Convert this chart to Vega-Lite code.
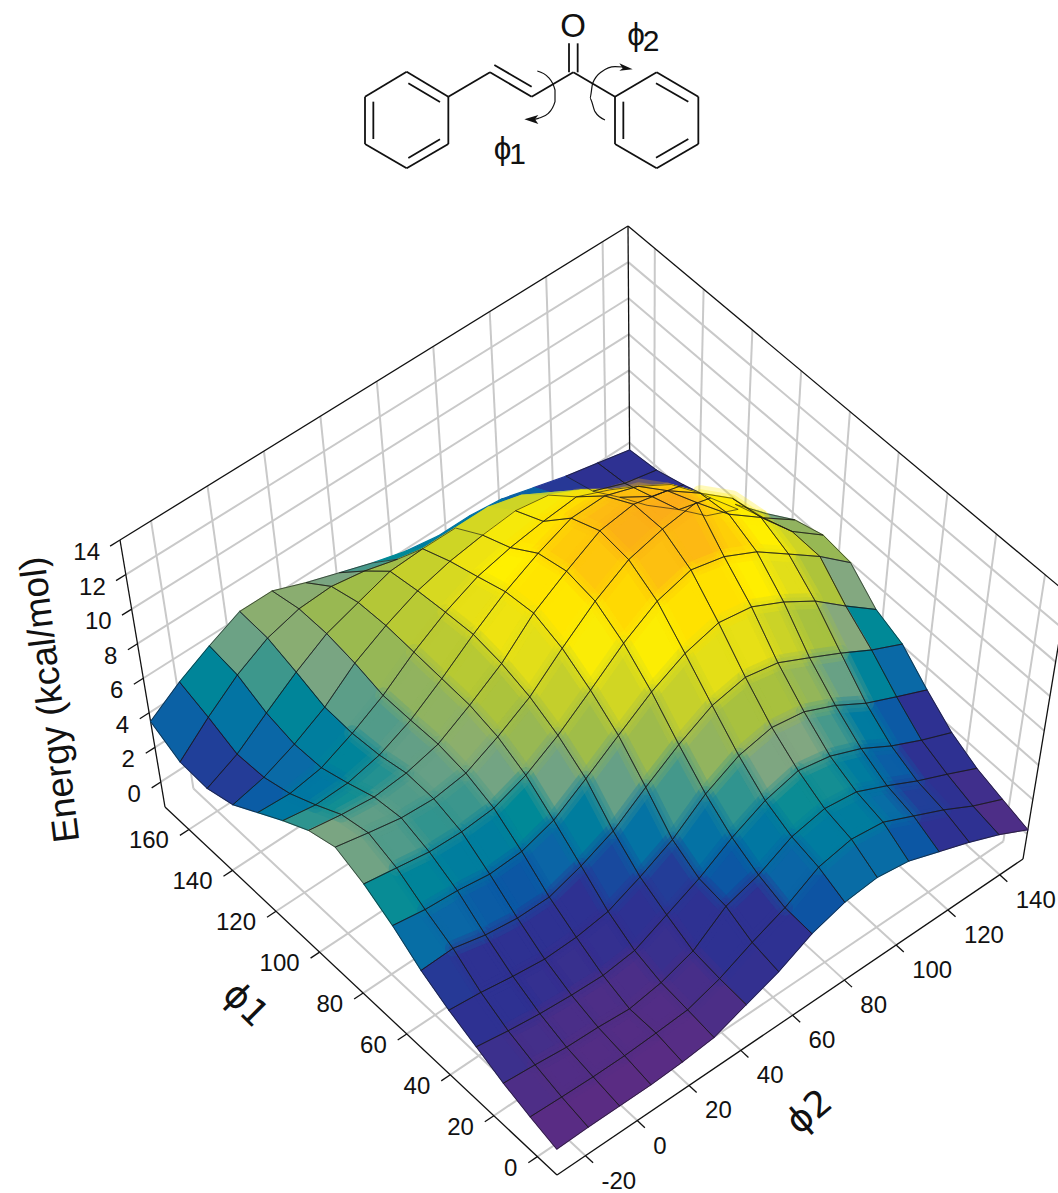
{"$schema":"https://vega.github.io/schema/vega-lite/v6.json","width":1058,"height":1193,"padding":0,"autosize":{"type":"none"},"background":"white","config":{"view":{"stroke":null},"text":{"font":"Liberation Sans"}},
"datasets":{
"surface":[
{"phi1":171,"phi2":-31,"energy":3.5},{"phi1":171,"phi2":-19,"energy":4.6},{"phi1":171,"phi2":-7,"energy":5.5},{"phi1":171,"phi2":5,"energy":6.3},{"phi1":171,"phi2":17,"energy":6.3},{"phi1":171,"phi2":29,"energy":5.6},{"phi1":171,"phi2":41,"energy":5},{"phi1":171,"phi2":53,"energy":4.4},{"phi1":171,"phi2":65,"energy":3.9},{"phi1":171,"phi2":77,"energy":3.6},{"phi1":171,"phi2":89,"energy":3.6},{"phi1":171,"phi2":101,"energy":3.4},{"phi1":171,"phi2":113,"energy":2.9},{"phi1":171,"phi2":125,"energy":2.4},{"phi1":171,"phi2":137,"energy":2},{"phi1":171,"phi2":149,"energy":1.6},
{"phi1":159,"phi2":-31,"energy":2.6},{"phi1":159,"phi2":-19,"energy":4},{"phi1":159,"phi2":-7,"energy":5.26},{"phi1":159,"phi2":5,"energy":6.2},{"phi1":159,"phi2":17,"energy":6.7},{"phi1":159,"phi2":29,"energy":6.8},{"phi1":159,"phi2":41,"energy":6.5},{"phi1":159,"phi2":53,"energy":6},{"phi1":159,"phi2":65,"energy":5.6},{"phi1":159,"phi2":77,"energy":5.2},{"phi1":159,"phi2":89,"energy":5},{"phi1":159,"phi2":101,"energy":4.6},{"phi1":159,"phi2":113,"energy":3.8},{"phi1":159,"phi2":125,"energy":2.9},{"phi1":159,"phi2":137,"energy":2.2},{"phi1":159,"phi2":149,"energy":1.8},
{"phi1":147,"phi2":-31,"energy":2.5},{"phi1":147,"phi2":-19,"energy":3.3},{"phi1":147,"phi2":-7,"energy":4.5},{"phi1":147,"phi2":5,"energy":5.67},{"phi1":147,"phi2":17,"energy":6.7},{"phi1":147,"phi2":29,"energy":7.3},{"phi1":147,"phi2":41,"energy":7.9},{"phi1":147,"phi2":53,"energy":8},{"phi1":147,"phi2":65,"energy":8},{"phi1":147,"phi2":77,"energy":8},{"phi1":147,"phi2":89,"energy":7.5},{"phi1":147,"phi2":101,"energy":6.5},{"phi1":147,"phi2":113,"energy":5.2},{"phi1":147,"phi2":125,"energy":3.9},{"phi1":147,"phi2":137,"energy":2.8},{"phi1":147,"phi2":149,"energy":2.3},
{"phi1":135,"phi2":-31,"energy":3},{"phi1":135,"phi2":-19,"energy":3.4},{"phi1":135,"phi2":-7,"energy":4.13},{"phi1":135,"phi2":5,"energy":5.08},{"phi1":135,"phi2":17,"energy":6.43},{"phi1":135,"phi2":29,"energy":7.4},{"phi1":135,"phi2":41,"energy":8.2},{"phi1":135,"phi2":53,"energy":8.7},{"phi1":135,"phi2":65,"energy":9},{"phi1":135,"phi2":77,"energy":9.2},{"phi1":135,"phi2":89,"energy":8.9},{"phi1":135,"phi2":101,"energy":8},{"phi1":135,"phi2":113,"energy":6.5},{"phi1":135,"phi2":125,"energy":4.8},{"phi1":135,"phi2":137,"energy":3.4},{"phi1":135,"phi2":149,"energy":2.9},
{"phi1":123,"phi2":-31,"energy":4},{"phi1":123,"phi2":-19,"energy":3.9},{"phi1":123,"phi2":-7,"energy":4.2},{"phi1":123,"phi2":5,"energy":5},{"phi1":123,"phi2":17,"energy":6},{"phi1":123,"phi2":29,"energy":7.3},{"phi1":123,"phi2":41,"energy":8.4},{"phi1":123,"phi2":53,"energy":9.24},{"phi1":123,"phi2":65,"energy":9.7},{"phi1":123,"phi2":77,"energy":10},{"phi1":123,"phi2":89,"energy":10.2},{"phi1":123,"phi2":101,"energy":9.4},{"phi1":123,"phi2":113,"energy":8},{"phi1":123,"phi2":125,"energy":6},{"phi1":123,"phi2":137,"energy":4.4},{"phi1":123,"phi2":149,"energy":3.6},
{"phi1":111,"phi2":-31,"energy":5},{"phi1":111,"phi2":-19,"energy":4.7},{"phi1":111,"phi2":-7,"energy":4.76},{"phi1":111,"phi2":5,"energy":5.18},{"phi1":111,"phi2":17,"energy":6},{"phi1":111,"phi2":29,"energy":7.2},{"phi1":111,"phi2":41,"energy":8.55},{"phi1":111,"phi2":53,"energy":9.8},{"phi1":111,"phi2":65,"energy":10.8},{"phi1":111,"phi2":77,"energy":11.6},{"phi1":111,"phi2":89,"energy":11.66},{"phi1":111,"phi2":101,"energy":11},{"phi1":111,"phi2":113,"energy":9.9},{"phi1":111,"phi2":125,"energy":8.1},{"phi1":111,"phi2":137,"energy":6.4},{"phi1":111,"phi2":149,"energy":4.7},
{"phi1":99,"phi2":-31,"energy":5.9},{"phi1":99,"phi2":-19,"energy":5.6},{"phi1":99,"phi2":-7,"energy":5.4},{"phi1":99,"phi2":5,"energy":5.58},{"phi1":99,"phi2":17,"energy":6.05},{"phi1":99,"phi2":29,"energy":7.1},{"phi1":99,"phi2":41,"energy":8.3},{"phi1":99,"phi2":53,"energy":10},{"phi1":99,"phi2":65,"energy":11.2},{"phi1":99,"phi2":77,"energy":12.3},{"phi1":99,"phi2":89,"energy":12.6},{"phi1":99,"phi2":101,"energy":12.16},{"phi1":99,"phi2":113,"energy":10.8},{"phi1":99,"phi2":125,"energy":9.3},{"phi1":99,"phi2":137,"energy":7},{"phi1":99,"phi2":149,"energy":5.7},
{"phi1":87,"phi2":-31,"energy":6.4},{"phi1":87,"phi2":-19,"energy":6},{"phi1":87,"phi2":-7,"energy":5.64},{"phi1":87,"phi2":5,"energy":5.53},{"phi1":87,"phi2":17,"energy":5.8},{"phi1":87,"phi2":29,"energy":6.7},{"phi1":87,"phi2":41,"energy":7.8},{"phi1":87,"phi2":53,"energy":9.4},{"phi1":87,"phi2":65,"energy":10.9},{"phi1":87,"phi2":77,"energy":12.07},{"phi1":87,"phi2":89,"energy":12.6},{"phi1":87,"phi2":101,"energy":12.9},{"phi1":87,"phi2":113,"energy":11},{"phi1":87,"phi2":125,"energy":9.6},{"phi1":87,"phi2":137,"energy":7.6},{"phi1":87,"phi2":149,"energy":6.2},
{"phi1":75,"phi2":-31,"energy":5.7},{"phi1":75,"phi2":-19,"energy":5.4},{"phi1":75,"phi2":-7,"energy":5.1},{"phi1":75,"phi2":5,"energy":5.04},{"phi1":75,"phi2":17,"energy":5.2},{"phi1":75,"phi2":29,"energy":5.9},{"phi1":75,"phi2":41,"energy":7},{"phi1":75,"phi2":53,"energy":8.4},{"phi1":75,"phi2":65,"energy":9.9},{"phi1":75,"phi2":77,"energy":11.1},{"phi1":75,"phi2":89,"energy":11.67},{"phi1":75,"phi2":101,"energy":11.2},{"phi1":75,"phi2":113,"energy":10.25},{"phi1":75,"phi2":125,"energy":8.9},{"phi1":75,"phi2":137,"energy":7.55},{"phi1":75,"phi2":149,"energy":6},
{"phi1":63,"phi2":-31,"energy":4.7},{"phi1":63,"phi2":-19,"energy":4.4},{"phi1":63,"phi2":-7,"energy":4.27},{"phi1":63,"phi2":5,"energy":4},{"phi1":63,"phi2":17,"energy":4.1},{"phi1":63,"phi2":29,"energy":4.7},{"phi1":63,"phi2":41,"energy":5.9},{"phi1":63,"phi2":53,"energy":7.2},{"phi1":63,"phi2":65,"energy":8.5},{"phi1":63,"phi2":77,"energy":9.5},{"phi1":63,"phi2":89,"energy":10.04},{"phi1":63,"phi2":101,"energy":9.72},{"phi1":63,"phi2":113,"energy":8.77},{"phi1":63,"phi2":125,"energy":7.6},{"phi1":63,"phi2":137,"energy":6.1},{"phi1":63,"phi2":149,"energy":4.7},
{"phi1":51,"phi2":-31,"energy":3.5},{"phi1":51,"phi2":-19,"energy":3.56},{"phi1":51,"phi2":-7,"energy":3.1},{"phi1":51,"phi2":5,"energy":2.85},{"phi1":51,"phi2":17,"energy":2.85},{"phi1":51,"phi2":29,"energy":3.45},{"phi1":51,"phi2":41,"energy":4.27},{"phi1":51,"phi2":53,"energy":5.6},{"phi1":51,"phi2":65,"energy":6.86},{"phi1":51,"phi2":77,"energy":7.9},{"phi1":51,"phi2":89,"energy":8.3},{"phi1":51,"phi2":101,"energy":7.9},{"phi1":51,"phi2":113,"energy":6.96},{"phi1":51,"phi2":125,"energy":6},{"phi1":51,"phi2":137,"energy":4.96},{"phi1":51,"phi2":149,"energy":4.09},
{"phi1":39,"phi2":-31,"energy":2.6},{"phi1":39,"phi2":-19,"energy":2.4},{"phi1":39,"phi2":-7,"energy":2.1},{"phi1":39,"phi2":5,"energy":1.87},{"phi1":39,"phi2":17,"energy":1.92},{"phi1":39,"phi2":29,"energy":2.2},{"phi1":39,"phi2":41,"energy":3},{"phi1":39,"phi2":53,"energy":3.96},{"phi1":39,"phi2":65,"energy":5.4},{"phi1":39,"phi2":77,"energy":6.4},{"phi1":39,"phi2":89,"energy":6.8},{"phi1":39,"phi2":101,"energy":6.47},{"phi1":39,"phi2":113,"energy":5.6},{"phi1":39,"phi2":125,"energy":4.5},{"phi1":39,"phi2":137,"energy":3.65},{"phi1":39,"phi2":149,"energy":2.83},
{"phi1":27,"phi2":-31,"energy":1.88},{"phi1":27,"phi2":-19,"energy":1.57},{"phi1":27,"phi2":-7,"energy":1.33},{"phi1":27,"phi2":5,"energy":1.18},{"phi1":27,"phi2":17,"energy":1.1},{"phi1":27,"phi2":29,"energy":1.33},{"phi1":27,"phi2":41,"energy":2.2},{"phi1":27,"phi2":53,"energy":3.1},{"phi1":27,"phi2":65,"energy":4.27},{"phi1":27,"phi2":77,"energy":5.2},{"phi1":27,"phi2":89,"energy":5.7},{"phi1":27,"phi2":101,"energy":5.3},{"phi1":27,"phi2":113,"energy":4.5},{"phi1":27,"phi2":125,"energy":3.42},{"phi1":27,"phi2":137,"energy":2.53},{"phi1":27,"phi2":149,"energy":1.75},
{"phi1":15,"phi2":-31,"energy":1.17},{"phi1":15,"phi2":-19,"energy":1},{"phi1":15,"phi2":-7,"energy":0.79},{"phi1":15,"phi2":5,"energy":0.72},{"phi1":15,"phi2":17,"energy":0.56},{"phi1":15,"phi2":29,"energy":0.87},{"phi1":15,"phi2":41,"energy":1.5},{"phi1":15,"phi2":53,"energy":2.9},{"phi1":15,"phi2":65,"energy":3.5},{"phi1":15,"phi2":77,"energy":4.5},{"phi1":15,"phi2":89,"energy":4.9},{"phi1":15,"phi2":101,"energy":4.63},{"phi1":15,"phi2":113,"energy":3.74},{"phi1":15,"phi2":125,"energy":2.78},{"phi1":15,"phi2":137,"energy":1.94},{"phi1":15,"phi2":149,"energy":1.06},
{"phi1":3,"phi2":-31,"energy":0.62},{"phi1":3,"phi2":-19,"energy":0.54},{"phi1":3,"phi2":-7,"energy":0.48},{"phi1":3,"phi2":5,"energy":0.48},{"phi1":3,"phi2":17,"energy":0.57},{"phi1":3,"phi2":29,"energy":0.7},{"phi1":3,"phi2":41,"energy":1.3},{"phi1":3,"phi2":53,"energy":2.2},{"phi1":3,"phi2":65,"energy":3},{"phi1":3,"phi2":77,"energy":4.14},{"phi1":3,"phi2":89,"energy":4.53},{"phi1":3,"phi2":101,"energy":4.27},{"phi1":3,"phi2":113,"energy":3.38},{"phi1":3,"phi2":125,"energy":2.49},{"phi1":3,"phi2":137,"energy":1.48},{"phi1":3,"phi2":149,"energy":0.64},
{"phi1":-9,"phi2":-31,"energy":0.15},{"phi1":-9,"phi2":-19,"energy":0.2},{"phi1":-9,"phi2":-7,"energy":0.2},{"phi1":-9,"phi2":5,"energy":0.2},{"phi1":-9,"phi2":17,"energy":0.3},{"phi1":-9,"phi2":29,"energy":0.5},{"phi1":-9,"phi2":41,"energy":1.2},{"phi1":-9,"phi2":53,"energy":1.9},{"phi1":-9,"phi2":65,"energy":2.9},{"phi1":-9,"phi2":77,"energy":3.5},{"phi1":-9,"phi2":89,"energy":3.7},{"phi1":-9,"phi2":101,"energy":3.4},{"phi1":-9,"phi2":113,"energy":2.7},{"phi1":-9,"phi2":125,"energy":2},{"phi1":-9,"phi2":137,"energy":1.2},{"phi1":-9,"phi2":149,"energy":0.25}
],
"segments":[
{"kind":"grid","p1":0,"p2":-31,"e":-1.45,"p1b":0,"p2b":149,"eb":-1.45},{"kind":"grid","p1":20,"p2":-31,"e":-1.45,"p1b":20,"p2b":149,"eb":-1.45},{"kind":"grid","p1":40,"p2":-31,"e":-1.45,"p1b":40,"p2b":149,"eb":-1.45},{"kind":"grid","p1":60,"p2":-31,"e":-1.45,"p1b":60,"p2b":149,"eb":-1.45},{"kind":"grid","p1":80,"p2":-31,"e":-1.45,"p1b":80,"p2b":149,"eb":-1.45},{"kind":"grid","p1":100,"p2":-31,"e":-1.45,"p1b":100,"p2b":149,"eb":-1.45},{"kind":"grid","p1":120,"p2":-31,"e":-1.45,"p1b":120,"p2b":149,"eb":-1.45},{"kind":"grid","p1":140,"p2":-31,"e":-1.45,"p1b":140,"p2b":149,"eb":-1.45},{"kind":"grid","p1":160,"p2":-31,"e":-1.45,"p1b":160,"p2b":149,"eb":-1.45},
{"kind":"grid","p1":0,"p2":149,"e":-1.45,"p1b":0,"p2b":149,"eb":14},{"kind":"grid","p1":20,"p2":149,"e":-1.45,"p1b":20,"p2b":149,"eb":14},{"kind":"grid","p1":40,"p2":149,"e":-1.45,"p1b":40,"p2b":149,"eb":14},{"kind":"grid","p1":60,"p2":149,"e":-1.45,"p1b":60,"p2b":149,"eb":14},{"kind":"grid","p1":80,"p2":149,"e":-1.45,"p1b":80,"p2b":149,"eb":14},{"kind":"grid","p1":100,"p2":149,"e":-1.45,"p1b":100,"p2b":149,"eb":14},{"kind":"grid","p1":120,"p2":149,"e":-1.45,"p1b":120,"p2b":149,"eb":14},{"kind":"grid","p1":140,"p2":149,"e":-1.45,"p1b":140,"p2b":149,"eb":14},{"kind":"grid","p1":160,"p2":149,"e":-1.45,"p1b":160,"p2b":149,"eb":14},
{"kind":"grid","p1":-9,"p2":-20,"e":-1.45,"p1b":171,"p2b":-20,"eb":-1.45},{"kind":"grid","p1":-9,"p2":0,"e":-1.45,"p1b":171,"p2b":0,"eb":-1.45},{"kind":"grid","p1":-9,"p2":20,"e":-1.45,"p1b":171,"p2b":20,"eb":-1.45},{"kind":"grid","p1":-9,"p2":40,"e":-1.45,"p1b":171,"p2b":40,"eb":-1.45},{"kind":"grid","p1":-9,"p2":60,"e":-1.45,"p1b":171,"p2b":60,"eb":-1.45},{"kind":"grid","p1":-9,"p2":80,"e":-1.45,"p1b":171,"p2b":80,"eb":-1.45},{"kind":"grid","p1":-9,"p2":100,"e":-1.45,"p1b":171,"p2b":100,"eb":-1.45},{"kind":"grid","p1":-9,"p2":120,"e":-1.45,"p1b":171,"p2b":120,"eb":-1.45},{"kind":"grid","p1":-9,"p2":140,"e":-1.45,"p1b":171,"p2b":140,"eb":-1.45},
{"kind":"grid","p1":171,"p2":-20,"e":-1.45,"p1b":171,"p2b":-20,"eb":14},{"kind":"grid","p1":171,"p2":0,"e":-1.45,"p1b":171,"p2b":0,"eb":14},{"kind":"grid","p1":171,"p2":20,"e":-1.45,"p1b":171,"p2b":20,"eb":14},{"kind":"grid","p1":171,"p2":40,"e":-1.45,"p1b":171,"p2b":40,"eb":14},{"kind":"grid","p1":171,"p2":60,"e":-1.45,"p1b":171,"p2b":60,"eb":14},{"kind":"grid","p1":171,"p2":80,"e":-1.45,"p1b":171,"p2b":80,"eb":14},{"kind":"grid","p1":171,"p2":100,"e":-1.45,"p1b":171,"p2b":100,"eb":14},{"kind":"grid","p1":171,"p2":120,"e":-1.45,"p1b":171,"p2b":120,"eb":14},{"kind":"grid","p1":171,"p2":140,"e":-1.45,"p1b":171,"p2b":140,"eb":14},
{"kind":"grid","p1":171,"p2":-31,"e":0,"p1b":171,"p2b":149,"eb":0},{"kind":"grid","p1":171,"p2":-31,"e":2,"p1b":171,"p2b":149,"eb":2},{"kind":"grid","p1":171,"p2":-31,"e":4,"p1b":171,"p2b":149,"eb":4},{"kind":"grid","p1":171,"p2":-31,"e":6,"p1b":171,"p2b":149,"eb":6},{"kind":"grid","p1":171,"p2":-31,"e":8,"p1b":171,"p2b":149,"eb":8},{"kind":"grid","p1":171,"p2":-31,"e":10,"p1b":171,"p2b":149,"eb":10},{"kind":"grid","p1":171,"p2":-31,"e":12,"p1b":171,"p2b":149,"eb":12},
{"kind":"grid","p1":171,"p2":149,"e":0,"p1b":-9,"p2b":149,"eb":0},{"kind":"grid","p1":171,"p2":149,"e":2,"p1b":-9,"p2b":149,"eb":2},{"kind":"grid","p1":171,"p2":149,"e":4,"p1b":-9,"p2b":149,"eb":4},{"kind":"grid","p1":171,"p2":149,"e":6,"p1b":-9,"p2b":149,"eb":6},{"kind":"grid","p1":171,"p2":149,"e":8,"p1b":-9,"p2b":149,"eb":8},{"kind":"grid","p1":171,"p2":149,"e":10,"p1b":-9,"p2b":149,"eb":10},{"kind":"grid","p1":171,"p2":149,"e":12,"p1b":-9,"p2b":149,"eb":12},
{"kind":"box","p1":-9,"p2":-31,"e":-1.45,"p1b":171,"p2b":-31,"eb":-1.45},{"kind":"box","p1":-9,"p2":-31,"e":-1.45,"p1b":-9,"p2b":149,"eb":-1.45},{"kind":"box","p1":171,"p2":-31,"e":-1.45,"p1b":171,"p2b":-31,"eb":14},{"kind":"box","p1":171,"p2":-31,"e":14,"p1b":171,"p2b":149,"eb":14},{"kind":"box","p1":171,"p2":149,"e":14,"p1b":-9,"p2b":149,"eb":14},{"kind":"box","p1":-9,"p2":149,"e":14,"p1b":-9,"p2b":149,"eb":-1.45},{"kind":"box","p1":171,"p2":149,"e":-1.45,"p1b":171,"p2b":149,"eb":14},
{"kind":"box","p1":0,"p2":-31,"e":-1.45,"p1b":0,"p2b":-34.5,"eb":-1.45},{"kind":"box","p1":20,"p2":-31,"e":-1.45,"p1b":20,"p2b":-34.5,"eb":-1.45},{"kind":"box","p1":40,"p2":-31,"e":-1.45,"p1b":40,"p2b":-34.5,"eb":-1.45},{"kind":"box","p1":60,"p2":-31,"e":-1.45,"p1b":60,"p2b":-34.5,"eb":-1.45},{"kind":"box","p1":80,"p2":-31,"e":-1.45,"p1b":80,"p2b":-34.5,"eb":-1.45},{"kind":"box","p1":100,"p2":-31,"e":-1.45,"p1b":100,"p2b":-34.5,"eb":-1.45},{"kind":"box","p1":120,"p2":-31,"e":-1.45,"p1b":120,"p2b":-34.5,"eb":-1.45},{"kind":"box","p1":140,"p2":-31,"e":-1.45,"p1b":140,"p2b":-34.5,"eb":-1.45},{"kind":"box","p1":160,"p2":-31,"e":-1.45,"p1b":160,"p2b":-34.5,"eb":-1.45},
{"kind":"box","p1":-9,"p2":-20,"e":-1.45,"p1b":-12.5,"p2b":-20,"eb":-1.45},{"kind":"box","p1":-9,"p2":0,"e":-1.45,"p1b":-12.5,"p2b":0,"eb":-1.45},{"kind":"box","p1":-9,"p2":20,"e":-1.45,"p1b":-12.5,"p2b":20,"eb":-1.45},{"kind":"box","p1":-9,"p2":40,"e":-1.45,"p1b":-12.5,"p2b":40,"eb":-1.45},{"kind":"box","p1":-9,"p2":60,"e":-1.45,"p1b":-12.5,"p2b":60,"eb":-1.45},{"kind":"box","p1":-9,"p2":80,"e":-1.45,"p1b":-12.5,"p2b":80,"eb":-1.45},{"kind":"box","p1":-9,"p2":100,"e":-1.45,"p1b":-12.5,"p2b":100,"eb":-1.45},{"kind":"box","p1":-9,"p2":120,"e":-1.45,"p1b":-12.5,"p2b":120,"eb":-1.45},{"kind":"box","p1":-9,"p2":140,"e":-1.45,"p1b":-12.5,"p2b":140,"eb":-1.45},
{"kind":"box","p1":171,"p2":-31,"e":0,"p1b":171,"p2b":-34.5,"eb":0},{"kind":"box","p1":171,"p2":-31,"e":2,"p1b":171,"p2b":-34.5,"eb":2},{"kind":"box","p1":171,"p2":-31,"e":4,"p1b":171,"p2b":-34.5,"eb":4},{"kind":"box","p1":171,"p2":-31,"e":6,"p1b":171,"p2b":-34.5,"eb":6},{"kind":"box","p1":171,"p2":-31,"e":8,"p1b":171,"p2b":-34.5,"eb":8},{"kind":"box","p1":171,"p2":-31,"e":10,"p1b":171,"p2b":-34.5,"eb":10},{"kind":"box","p1":171,"p2":-31,"e":12,"p1b":171,"p2b":-34.5,"eb":12},{"kind":"box","p1":171,"p2":-31,"e":14,"p1b":171,"p2b":-34.5,"eb":14}
],
"ticklabels":[
{"axis":"phi1","label":"0","p1":0,"p2":-31,"e":-1.45},{"axis":"phi1","label":"20","p1":20,"p2":-31,"e":-1.45},{"axis":"phi1","label":"40","p1":40,"p2":-31,"e":-1.45},{"axis":"phi1","label":"60","p1":60,"p2":-31,"e":-1.45},{"axis":"phi1","label":"80","p1":80,"p2":-31,"e":-1.45},{"axis":"phi1","label":"100","p1":100,"p2":-31,"e":-1.45},{"axis":"phi1","label":"120","p1":120,"p2":-31,"e":-1.45},{"axis":"phi1","label":"140","p1":140,"p2":-31,"e":-1.45},{"axis":"phi1","label":"160","p1":160,"p2":-31,"e":-1.45},
{"axis":"phi2","label":"-20","p1":-9,"p2":-20,"e":-1.45},{"axis":"phi2","label":"0","p1":-9,"p2":0,"e":-1.45},{"axis":"phi2","label":"20","p1":-9,"p2":20,"e":-1.45},{"axis":"phi2","label":"40","p1":-9,"p2":40,"e":-1.45},{"axis":"phi2","label":"60","p1":-9,"p2":60,"e":-1.45},{"axis":"phi2","label":"80","p1":-9,"p2":80,"e":-1.45},{"axis":"phi2","label":"100","p1":-9,"p2":100,"e":-1.45},{"axis":"phi2","label":"120","p1":-9,"p2":120,"e":-1.45},{"axis":"phi2","label":"140","p1":-9,"p2":140,"e":-1.45},
{"axis":"e","label":"0","p1":171,"p2":-31,"e":0},{"axis":"e","label":"2","p1":171,"p2":-31,"e":2},{"axis":"e","label":"4","p1":171,"p2":-31,"e":4},{"axis":"e","label":"6","p1":171,"p2":-31,"e":6},{"axis":"e","label":"8","p1":171,"p2":-31,"e":8},{"axis":"e","label":"10","p1":171,"p2":-31,"e":10},{"axis":"e","label":"12","p1":171,"p2":-31,"e":12},{"axis":"e","label":"14","p1":171,"p2":-31,"e":14}
],
"bonds":[
{"x1":200,"y1":215,"x2":325,"y2":290},{"x1":325,"y1":290,"x2":325,"y2":432},{"x1":325,"y1":432,"x2":200,"y2":505},{"x1":200,"y1":505,"x2":75,"y2":432},{"x1":75,"y1":432,"x2":75,"y2":290},{"x1":75,"y1":290,"x2":200,"y2":215},
{"x1":205,"y1":250,"x2":300,"y2":306},{"x1":100,"y1":305,"x2":100,"y2":417},{"x1":205,"y1":474,"x2":300,"y2":418},
{"x1":325,"y1":290,"x2":450,"y2":217},{"x1":450,"y1":217,"x2":575,"y2":290},{"x1":463,"y1":195,"x2":575,"y2":260},{"x1":575,"y1":290,"x2":700,"y2":217},
{"x1":687,"y1":217,"x2":687,"y2":130},{"x1":713,"y1":217,"x2":713,"y2":130},{"x1":700,"y1":217,"x2":825,"y2":290},
{"x1":825,"y1":290,"x2":950,"y2":217},{"x1":950,"y1":217,"x2":1075,"y2":290},{"x1":1075,"y1":290,"x2":1075,"y2":432},{"x1":1075,"y1":432,"x2":950,"y2":505},{"x1":950,"y1":505,"x2":825,"y2":432},{"x1":825,"y1":432,"x2":825,"y2":290},
{"x1":948,"y1":250,"x2":1045,"y2":305},{"x1":1045,"y1":417,"x2":948,"y2":473},{"x1":850,"y1":305,"x2":850,"y2":417}
],
"arcs":[
{"arc":"phi1","o":0,"mx":592,"my":213},{"arc":"phi1","o":1,"mx":625,"my":232},{"arc":"phi1","o":2,"mx":645,"my":270},{"arc":"phi1","o":3,"mx":645,"my":305},{"arc":"phi1","o":4,"mx":625,"my":340},{"arc":"phi1","o":5,"mx":595,"my":355},{"arc":"phi1","o":6,"mx":575,"my":360},
{"arc":"phi2","o":0,"mx":795,"my":360},{"arc":"phi2","o":1,"mx":765,"my":335},{"arc":"phi2","o":2,"mx":750,"my":295},{"arc":"phi2","o":3,"mx":758,"my":250},{"arc":"phi2","o":4,"mx":785,"my":215},{"arc":"phi2","o":5,"mx":825,"my":200},{"arc":"phi2","o":6,"mx":850,"my":201}
],
"heads":[{"arc":"phi1","mx":553,"my":358},{"arc":"phi2","mx":878,"my":208}],
"mollabels":[{"label":"O","kind":"atom","mx":699,"my":80},{"label":"ϕ","kind":"phi","mx":888,"my":108},{"label":"2","kind":"sub","mx":933,"my":126},{"label":"ϕ","kind":"phi","mx":488,"my":450},{"label":"1","kind":"sub","mx":533,"my":466}]
},
"encoding":{},
"layer":[
{"data":{"name":"segments"},"transform":[
{"calculate":"(datum.p1+9)/180","as":"s"},{"calculate":"(datum.p2+31)/180","as":"t"},{"calculate":"(datum.e+1.45)/15.45","as":"r"},
{"calculate":"(datum.p1b+9)/180","as":"sb"},{"calculate":"(datum.p2b+31)/180","as":"tb"},{"calculate":"(datum.eb+1.45)/15.45","as":"rb"},
{"calculate":"557-392*datum.s+466*datum.t-datum.s*datum.t+datum.r*(-2-43*datum.s+46*datum.t-3*datum.s*datum.t)","as":"X"},
{"calculate":"1175-368*datum.s-316*datum.t+14*datum.s*datum.t+datum.r*(-250-17*datum.s-16*datum.t+4*datum.s*datum.t)","as":"Y"},
{"calculate":"557-392*datum.sb+466*datum.tb-datum.sb*datum.tb+datum.rb*(-2-43*datum.sb+46*datum.tb-3*datum.sb*datum.tb)","as":"X2"},
{"calculate":"1175-368*datum.sb-316*datum.tb+14*datum.sb*datum.tb+datum.rb*(-250-17*datum.sb-16*datum.tb+4*datum.sb*datum.tb)","as":"Y2"}],
"mark":{"type":"rule"},
"encoding":{"x":{"field":"X","type":"quantitative","scale":{"domain":[0,1058],"nice":false,"zero":false},"axis":null},"y":{"field":"Y","type":"quantitative","scale":{"domain":[1193,0],"nice":false,"zero":false},"axis":null},"x2":{"field":"X2"},"y2":{"field":"Y2"},
"color":{"field":"kind","type":"nominal","scale":{"domain":["grid","box"],"range":["#c9c9c9","#111111"]},"legend":null},
"strokeWidth":{"field":"kind","type":"nominal","scale":{"domain":["grid","box"],"range":[2,1.3]},"legend":null}}},
{"data":{"name":"surface"},"transform":[
{"window":[{"op":"lead","field":"energy","as":"eb"}],"groupby":["phi1"],"sort":[{"field":"phi2","order":"ascending"}]},
{"window":[{"op":"lead","field":"energy","as":"ea"}],"groupby":["phi2"],"sort":[{"field":"phi1","order":"ascending"}]},
{"window":[{"op":"lead","field":"ea","as":"eab"}],"groupby":["phi1"],"sort":[{"field":"phi2","order":"ascending"}]},
{"filter":"isValid(datum.eb)&&isValid(datum.ea)&&isValid(datum.eab)"},
{"calculate":"(datum.phi1+9)/180","as":"s"},{"calculate":"(datum.phi2+31)/180","as":"t"},{"calculate":"datum.s+1/15","as":"s1"},{"calculate":"datum.t+1/15","as":"t1"},
{"calculate":"(datum.energy+1.45)/15.45","as":"r00"},{"calculate":"(datum.ea+1.45)/15.45","as":"r10"},{"calculate":"(datum.eb+1.45)/15.45","as":"r01"},{"calculate":"(datum.eab+1.45)/15.45","as":"r11"},
{"calculate":"557-392*datum.s+466*datum.t-datum.s*datum.t+datum.r00*(-2-43*datum.s+46*datum.t-3*datum.s*datum.t)","as":"x00"},
{"calculate":"1175-368*datum.s-316*datum.t+14*datum.s*datum.t+datum.r00*(-250-17*datum.s-16*datum.t+4*datum.s*datum.t)","as":"y00"},
{"calculate":"557-392*datum.s1+466*datum.t-datum.s1*datum.t+datum.r10*(-2-43*datum.s1+46*datum.t-3*datum.s1*datum.t)","as":"x10"},
{"calculate":"1175-368*datum.s1-316*datum.t+14*datum.s1*datum.t+datum.r10*(-250-17*datum.s1-16*datum.t+4*datum.s1*datum.t)","as":"y10"},
{"calculate":"557-392*datum.s+466*datum.t1-datum.s*datum.t1+datum.r01*(-2-43*datum.s+46*datum.t1-3*datum.s*datum.t1)","as":"x01"},
{"calculate":"1175-368*datum.s-316*datum.t1+14*datum.s*datum.t1+datum.r01*(-250-17*datum.s-16*datum.t1+4*datum.s*datum.t1)","as":"y01"},
{"calculate":"557-392*datum.s1+466*datum.t1-datum.s1*datum.t1+datum.r11*(-2-43*datum.s1+46*datum.t1-3*datum.s1*datum.t1)","as":"x11"},
{"calculate":"1175-368*datum.s1-316*datum.t1+14*datum.s1*datum.t1+datum.r11*(-250-17*datum.s1-16*datum.t1+4*datum.s1*datum.t1)","as":"y11"},
{"calculate":"'M0,0L'+(datum.x10-datum.x00)+','+(datum.y10-datum.y00)+'L'+(datum.x11-datum.x00)+','+(datum.y11-datum.y00)+'L'+(datum.x01-datum.x00)+','+(datum.y01-datum.y00)+'Z'","as":"cell"},
{"calculate":"(datum.energy+datum.ea+datum.eb+datum.eab)/4","as":"level"},
{"calculate":"(datum.x11-datum.x00)*(datum.y01-datum.y10)-(datum.y11-datum.y00)*(datum.x01-datum.x10)","as":"facing"},
{"calculate":"datum.phi1>-9&&datum.phi1<123&&datum.phi2>-31&&datum.phi2<125&&datum.facing>1000","as":"inner"},
{"calculate":"datum.facing>0&&!(datum.phi1>=123&&datum.phi2>=53&&datum.phi2<=113&&datum.facing<900)&&!(datum.phi1>=135&&datum.phi2>=65&&datum.phi2<=113)","as":"meshed"},
{"calculate":"-(datum.s+datum.t)","as":"depth"}],
"encoding":{"x":{"field":"x00","type":"quantitative","scale":{"domain":[0,1058],"nice":false,"zero":false},"axis":null},"y":{"field":"y00","type":"quantitative","scale":{"domain":[1193,0],"nice":false,"zero":false},"axis":null},
"shape":{"field":"cell","type":"nominal","scale":null},
"order":{"field":"depth","type":"quantitative"}},
"layer":[
{"mark":{"type":"point","filled":true,"opacity":1,"strokeWidth":1.2,"size":4},
"encoding":{"fill":{"field":"level","type":"quantitative","legend":null,"scale":{"domain":[0.3,1,1.8,2.9,3.4,3.9,4.4,5,5.6,6.1,6.7,7.3,8.4,9.2,9.9,10.9,12,12.7],"range":["#5b2c83","#4a2e88","#2e3192","#2e3192","#0c55a4","#0a6aa6","#0078a2","#008a96","#5a9d88","#84a880","#93b55a","#a6c040","#cdd426","#f0e410","#fff000","#ffdc00","#fdbc12","#faa91a"],"interpolate":"rgb"}},
"stroke":{"field":"level","type":"quantitative","legend":null,"scale":{"domain":[0.3,1,1.8,2.9,3.4,3.9,4.4,5,5.6,6.1,6.7,7.3,8.4,9.2,9.9,10.9,12,12.7],"range":["#5b2c83","#4a2e88","#2e3192","#2e3192","#0c55a4","#0a6aa6","#0078a2","#008a96","#5a9d88","#84a880","#93b55a","#a6c040","#cdd426","#f0e410","#fff000","#ffdc00","#fdbc12","#faa91a"],"interpolate":"rgb"}}}},
{"transform":[{"filter":"datum.inner"}],"mark":{"type":"point","filled":false,"fillOpacity":0,"strokeOpacity":0.28,"strokeWidth":16,"size":4,"strokeJoin":"round"},
"encoding":{"stroke":{"field":"level","type":"quantitative","legend":null,"scale":{"domain":[0.3,1,1.8,2.9,3.4,3.9,4.4,5,5.6,6.1,6.7,7.3,8.4,9.2,9.9,10.9,12,12.7],"range":["#5b2c83","#4a2e88","#2e3192","#2e3192","#0c55a4","#0a6aa6","#0078a2","#008a96","#5a9d88","#84a880","#93b55a","#a6c040","#cdd426","#f0e410","#fff000","#ffdc00","#fdbc12","#faa91a"],"interpolate":"rgb"}}}},
{"transform":[{"filter":"datum.inner"}],"mark":{"type":"point","filled":false,"fillOpacity":0,"strokeOpacity":0.3,"strokeWidth":8,"size":4,"strokeJoin":"round"},
"encoding":{"stroke":{"field":"level","type":"quantitative","legend":null,"scale":{"domain":[0.3,1,1.8,2.9,3.4,3.9,4.4,5,5.6,6.1,6.7,7.3,8.4,9.2,9.9,10.9,12,12.7],"range":["#5b2c83","#4a2e88","#2e3192","#2e3192","#0c55a4","#0a6aa6","#0078a2","#008a96","#5a9d88","#84a880","#93b55a","#a6c040","#cdd426","#f0e410","#fff000","#ffdc00","#fdbc12","#faa91a"],"interpolate":"rgb"}}}},
{"transform":[{"filter":"datum.meshed"}],"mark":{"type":"point","filled":false,"fillOpacity":0,"opacity":0.9,"stroke":"#1a1a1a","strokeWidth":0.7,"size":4}}
]},
{"data":{"name":"ticklabels"},"transform":[{"filter":"datum.axis=='phi1'"},
{"calculate":"(datum.p1+9)/180","as":"s"},{"calculate":"(datum.p2+31)/180","as":"t"},{"calculate":"(datum.e+1.45)/15.45","as":"r"},
{"calculate":"557-392*datum.s+466*datum.t-datum.s*datum.t+datum.r*(-2-43*datum.s+46*datum.t-3*datum.s*datum.t)","as":"X"},
{"calculate":"1175-368*datum.s-316*datum.t+14*datum.s*datum.t+datum.r*(-250-17*datum.s-16*datum.t+4*datum.s*datum.t)","as":"Y"}],
"mark":{"type":"text","align":"right","baseline":"middle","dx":-20,"dy":12,"fontSize":24,"color":"#111111"},
"encoding":{"x":{"field":"X","type":"quantitative","scale":{"domain":[0,1058],"nice":false,"zero":false},"axis":null},"y":{"field":"Y","type":"quantitative","scale":{"domain":[1193,0],"nice":false,"zero":false},"axis":null},"text":{"field":"label"}}},
{"data":{"name":"ticklabels"},"transform":[{"filter":"datum.axis=='phi2'"},
{"calculate":"(datum.p1+9)/180","as":"s"},{"calculate":"(datum.p2+31)/180","as":"t"},{"calculate":"(datum.e+1.45)/15.45","as":"r"},
{"calculate":"557-392*datum.s+466*datum.t-datum.s*datum.t+datum.r*(-2-43*datum.s+46*datum.t-3*datum.s*datum.t)","as":"X"},
{"calculate":"1175-368*datum.s-316*datum.t+14*datum.s*datum.t+datum.r*(-250-17*datum.s-16*datum.t+4*datum.s*datum.t)","as":"Y"}],
"mark":{"type":"text","align":"left","baseline":"middle","dx":16,"dy":26,"fontSize":24,"color":"#111111"},
"encoding":{"x":{"field":"X","type":"quantitative","scale":{"domain":[0,1058],"nice":false,"zero":false},"axis":null},"y":{"field":"Y","type":"quantitative","scale":{"domain":[1193,0],"nice":false,"zero":false},"axis":null},"text":{"field":"label"}}},
{"data":{"name":"ticklabels"},"transform":[{"filter":"datum.axis=='e'"},
{"calculate":"(datum.p1+9)/180","as":"s"},{"calculate":"(datum.p2+31)/180","as":"t"},{"calculate":"(datum.e+1.45)/15.45","as":"r"},
{"calculate":"557-392*datum.s+466*datum.t-datum.s*datum.t+datum.r*(-2-43*datum.s+46*datum.t-3*datum.s*datum.t)","as":"X"},
{"calculate":"1175-368*datum.s-316*datum.t+14*datum.s*datum.t+datum.r*(-250-17*datum.s-16*datum.t+4*datum.s*datum.t)","as":"Y"}],
"mark":{"type":"text","align":"right","baseline":"middle","dx":-20,"dy":13,"fontSize":24,"color":"#111111"},
"encoding":{"x":{"field":"X","type":"quantitative","scale":{"domain":[0,1058],"nice":false,"zero":false},"axis":null},"y":{"field":"Y","type":"quantitative","scale":{"domain":[1193,0],"nice":false,"zero":false},"axis":null},"text":{"field":"label"}}},
{"data":{"values":[{"label":"Energy (kcal/mol)","p1":171,"p2":-31,"e":6.5}]},"transform":[
{"calculate":"(datum.p1+9)/180","as":"s"},{"calculate":"(datum.p2+31)/180","as":"t"},{"calculate":"(datum.e+1.45)/15.45","as":"r"},
{"calculate":"557-392*datum.s+466*datum.t-datum.s*datum.t+datum.r*(-2-43*datum.s+46*datum.t-3*datum.s*datum.t)-91","as":"X"},
{"calculate":"1175-368*datum.s-316*datum.t+14*datum.s*datum.t+datum.r*(-250-17*datum.s-16*datum.t+4*datum.s*datum.t)+30","as":"Y"}],
"mark":{"type":"text","align":"center","baseline":"middle","angle":263,"fontSize":37,"color":"#111111"},
"encoding":{"x":{"field":"X","type":"quantitative","scale":{"domain":[0,1058],"nice":false,"zero":false},"axis":null},"y":{"field":"Y","type":"quantitative","scale":{"domain":[1193,0],"nice":false,"zero":false},"axis":null},"text":{"field":"label"}}},
{"data":{"values":[{"label":"ϕ1","p1":80,"p2":-31,"e":-1.45}]},"transform":[
{"calculate":"(datum.p1+9)/180","as":"s"},{"calculate":"(datum.p2+31)/180","as":"t"},{"calculate":"(datum.e+1.45)/15.45","as":"r"},
{"calculate":"557-392*datum.s+466*datum.t-datum.s*datum.t+datum.r*(-2-43*datum.s+46*datum.t-3*datum.s*datum.t)-118","as":"X"},
{"calculate":"1175-368*datum.s-316*datum.t+14*datum.s*datum.t+datum.r*(-250-17*datum.s-16*datum.t+4*datum.s*datum.t)+12","as":"Y"}],
"mark":{"type":"text","align":"center","baseline":"middle","angle":45,"fontSize":36,"color":"#111111","font":"DejaVu Sans"},
"encoding":{"x":{"field":"X","type":"quantitative","scale":{"domain":[0,1058],"nice":false,"zero":false},"axis":null},"y":{"field":"Y","type":"quantitative","scale":{"domain":[1193,0],"nice":false,"zero":false},"axis":null},"text":{"field":"label"}}},
{"data":{"values":[{"label":"ϕ2","p1":-9,"p2":60,"e":-1.45}]},"transform":[
{"calculate":"(datum.p1+9)/180","as":"s"},{"calculate":"(datum.p2+31)/180","as":"t"},{"calculate":"(datum.e+1.45)/15.45","as":"r"},
{"calculate":"557-392*datum.s+466*datum.t-datum.s*datum.t+datum.r*(-2-43*datum.s+46*datum.t-3*datum.s*datum.t)+17","as":"X"},
{"calculate":"1175-368*datum.s-316*datum.t+14*datum.s*datum.t+datum.r*(-250-17*datum.s-16*datum.t+4*datum.s*datum.t)+97","as":"Y"}],
"mark":{"type":"text","align":"center","baseline":"middle","angle":-40,"fontSize":36,"color":"#111111","font":"DejaVu Sans"},
"encoding":{"x":{"field":"X","type":"quantitative","scale":{"domain":[0,1058],"nice":false,"zero":false},"axis":null},"y":{"field":"Y","type":"quantitative","scale":{"domain":[1193,0],"nice":false,"zero":false},"axis":null},"text":{"field":"label"}}},
{"data":{"name":"bonds"},"transform":[{"calculate":"340+datum.x1/3","as":"X"},{"calculate":"datum.y1/3","as":"Y"},{"calculate":"340+datum.x2/3","as":"X2"},{"calculate":"datum.y2/3","as":"Y2"}],
"mark":{"type":"rule","color":"#111111","strokeWidth":1.8},
"encoding":{"x":{"field":"X","type":"quantitative","scale":{"domain":[0,1058],"nice":false,"zero":false},"axis":null},"y":{"field":"Y","type":"quantitative","scale":{"domain":[1193,0],"nice":false,"zero":false},"axis":null},"x2":{"field":"X2"},"y2":{"field":"Y2"}}},
{"data":{"name":"arcs"},"transform":[{"calculate":"340+datum.mx/3","as":"X"},{"calculate":"datum.my/3","as":"Y"}],
"mark":{"type":"line","color":"#111111","strokeWidth":1.2,"interpolate":"monotone"},
"encoding":{"x":{"field":"X","type":"quantitative","scale":{"domain":[0,1058],"nice":false,"zero":false},"axis":null},"y":{"field":"Y","type":"quantitative","scale":{"domain":[1193,0],"nice":false,"zero":false},"axis":null},"detail":{"field":"arc"},"order":{"field":"o","type":"quantitative"}}},
{"data":{"name":"heads"},"transform":[{"calculate":"340+datum.mx/3","as":"X"},{"calculate":"datum.my/3","as":"Y"}],
"mark":{"type":"point","filled":true,"opacity":1,"size":4,"color":"#111111"},
"encoding":{"x":{"field":"X","type":"quantitative","scale":{"domain":[0,1058],"nice":false,"zero":false},"axis":null},"y":{"field":"Y","type":"quantitative","scale":{"domain":[1193,0],"nice":false,"zero":false},"axis":null},
"shape":{"field":"arc","type":"nominal","legend":null,"scale":{"domain":["phi1","phi2"],"range":["M0,0L14,-4.3L10.7,0L14,4.7Z","M0,0L-13.3,-6L-10,-1L-13.3,1.3Z"]}}}},
{"data":{"name":"mollabels"},"transform":[{"calculate":"340+datum.mx/3","as":"X"},{"calculate":"datum.my/3","as":"Y"}],
"mark":{"type":"text","align":"center","baseline":"middle","color":"#111111"},
"encoding":{"x":{"field":"X","type":"quantitative","scale":{"domain":[0,1058],"nice":false,"zero":false},"axis":null},"y":{"field":"Y","type":"quantitative","scale":{"domain":[1193,0],"nice":false,"zero":false},"axis":null},"text":{"field":"label"},
"size":{"field":"kind","type":"nominal","legend":null,"scale":{"domain":["atom","phi","sub"],"range":[33,30,23]}}}}
]}
